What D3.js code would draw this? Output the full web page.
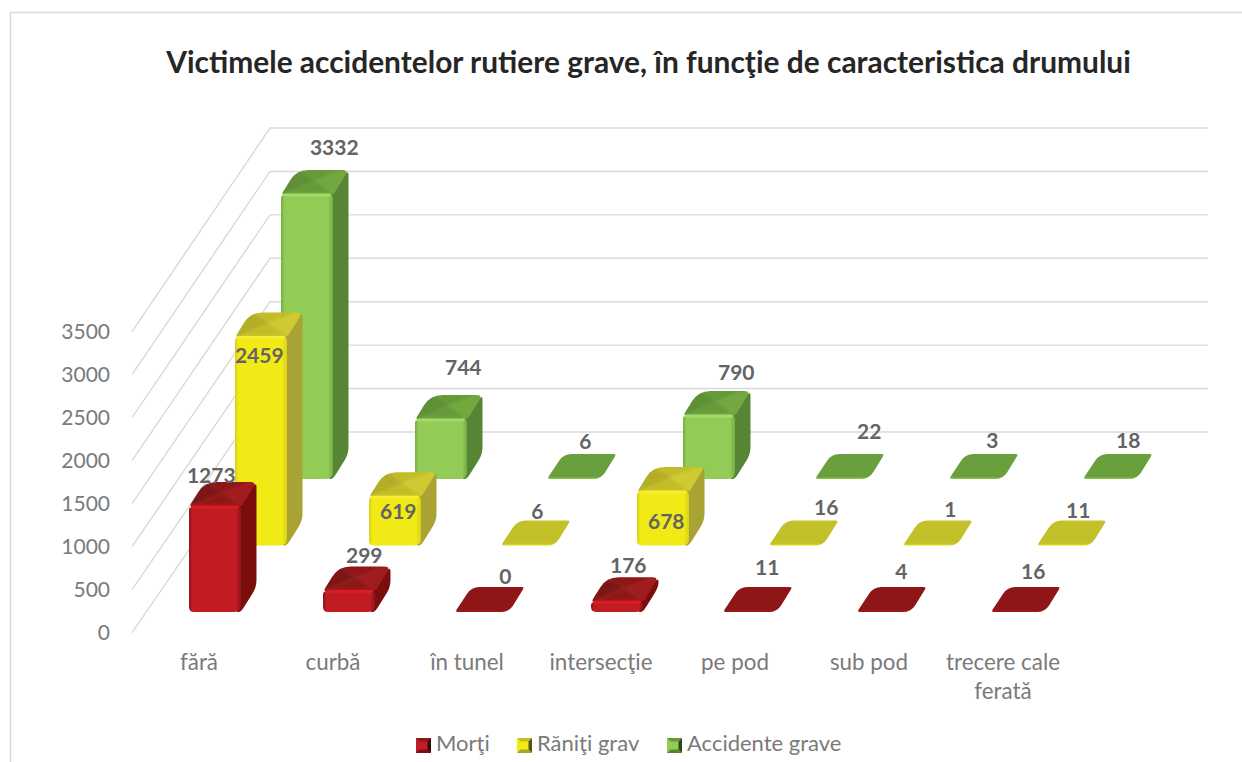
<!DOCTYPE html>
<html><head><meta charset="utf-8">
<style>html,body{margin:0;padding:0;background:#fff}svg{display:block}text{font-family:Lato,"Open Sans",sans-serif}</style>
<script src="https://cdn.jsdelivr.net/npm/d3@7"></script></head><body>
<svg id="c" width="1242" height="762"></svg>
<script>
const categories = ["fără","curbă","în tunel","intersecţie","pe pod","sub pod",["trecere cale","ferată"]];
const seriesNames = ["Morţi","Răniţi grav","Accidente grave"];
const morti = [1273,299,0,176,11,4,16];
const raniti = [2459,619,6,678,16,1,11];
const accidente = [3332,744,6,790,22,3,18];
const yTicks = [0,500,1000,1500,2000,2500,3000,3500];
const titleText = "Victimele accidentelor rutiere grave, în funcţie de caracteristica drumului";

// label nudges relative to the top of each bar
const labelNudgeMorti = [[-11.5,-6.6],[7.5,-10.5],[14.5,-10],[3.5,-12],[8.5,-19],[8.5,-15],[6.5,-15]];
const labelNudgeRaniti = [[-9.5,43.7],[-4.5,39.4],[0.5,-9],[-4.5,54.5],[21.5,-13],[11.5,-11],[5.5,-10]];
const labelNudgeAccidente = [[19.5,-22],[14.5,-27],[2.5,-12],[19.5,-18],[18.5,-22],[7.5,-13],[9.5,-13]];

const palettes = [
 {front:"#c01e24",edge:"#8e1419",hi:"#dd1c22",topF:"#c81a20",topB:"#8f1518",topL:"#7e1214",topR:"#a01a1c",side:"#7b0f11",flat:"#8f1518",flatEdge:"#a3181c",dark:"#3d0a0b"},
 {front:"#f2ea14",edge:"#d8d01c",hi:"#f6ee30",topF:"#dcd51c",topB:"#c4bc28",topL:"#b4ae26",topR:"#d0ca30",side:"#a8a330",flat:"#c3c12b",flatEdge:"#e0da1a",dark:"#55531a"},
 {front:"#92cc57",edge:"#76ad42",hi:"#a6d86a",topF:"#86bf4e",topB:"#659a37",topL:"#5e9036",topR:"#72a83e",side:"#578535",flat:"#6b9f3c",flatEdge:"#8fc64f",dark:"#2e4a1c"}
];

const W=1242,H=762;
const svg=d3.select("#c");
const defs=svg.append("defs");
svg.append("rect").attr("width",W).attr("height",H).attr("fill","#fff");

// chart frame
svg.append("path").attr("d",d3.line()([[10.5,762],[10.5,12.5],[1242,12.5]]))
   .attr("fill","none").attr("stroke","#dadada").attr("stroke-width",1.6);

// title
svg.append("text").attr("x",648.5).attr("y",72.5).attr("text-anchor","middle")
  .attr("font-size",29.9).attr("font-weight",700).attr("fill","#262626").text(titleText);

// scales
const wallY=d3.scaleLinear().domain([0,3500]).range([432,128]);
const frontY=d3.scaleLinear().domain([0,3500]).range([632.7,331.7]);
const heightPx=d3.scaleLinear().domain([0,3500]).range([0,304]);
const xCat=d3.scalePoint().domain(d3.range(categories.length)).range([189,993]);
const xSeries=d3.scalePoint().domain([0,1,2]).range([0,92]);
const baseY=d3.scalePoint().domain([0,1,2]).range([612,479]);
const barW=52,depthX=15.5,depthY=25,bevel=5.5;

// gridlines
const grid=svg.append("g").attr("fill","none").attr("stroke","#d9d9d9").attr("stroke-width",1.4);
yTicks.forEach(t=>{
  grid.append("path").attr("d",d3.line()([[132,frontY(t)],[270,wallY(t)],[1208,wallY(t)]]));
});

// axis labels
svg.append("g").selectAll("text").data(yTicks).join("text")
  .attr("x",110).attr("y",d=>frontY(d)-1.4).attr("text-anchor","end").attr("dominant-baseline","central")
  .attr("font-size",21).attr("fill","#7a7a7a").text(d=>d);

const catCenter=d3.scalePoint().domain(d3.range(categories.length)).range([199,1003]);
categories.forEach((c,i)=>{
  const lines=Array.isArray(c)?c:[c];
  lines.forEach((l,k)=>{
    svg.append("text").attr("x",catCenter(i)).attr("y",661+k*29).attr("text-anchor","middle")
      .attr("dominant-baseline","central").attr("font-size",22.4).attr("fill","#7a7a7a").text(l);
  });
});

function rounded(pts,rs){
  const n=pts.length;let d="";
  for(let i=0;i<n;i++){
    const p=pts[i],a=pts[(i+n-1)%n],b=pts[(i+1)%n],r=Array.isArray(rs)?rs[i]:rs;
    const la=Math.hypot(a[0]-p[0],a[1]-p[1]),lb=Math.hypot(b[0]-p[0],b[1]-p[1]);
    const ra=Math.min(r,la/2),rb=Math.min(r,lb/2);
    const s=[p[0]+(a[0]-p[0])*ra/la,p[1]+(a[1]-p[1])*ra/la];
    const e=[p[0]+(b[0]-p[0])*rb/lb,p[1]+(b[1]-p[1])*rb/lb];
    d+=(i?"L":"M")+s[0]+","+s[1]+"Q"+p[0]+","+p[1]+" "+e[0]+","+e[1];
  }
  return d+"Z";
}
const poly=pts=>d3.line()(pts)+"Z";

// gradients and softening filters
defs.append("filter").attr("id","soft").attr("x","-5%").attr("y","-5%").attr("width","110%").attr("height","110%")
  .append("feGaussianBlur").attr("stdDeviation",0.45);
defs.append("filter").attr("id","facet").attr("x","-20%").attr("y","-40%").attr("width","140%").attr("height","180%")
  .append("feGaussianBlur").attr("stdDeviation",1.6);
palettes.forEach((p,i)=>{
  const g=defs.append("linearGradient").attr("id","front"+i);
  [[0,p.edge],[0.07,p.front],[0.9,p.front],[1,p.edge]].forEach(s=>g.append("stop").attr("offset",s[0]).attr("stop-color",s[1]));
  const f=defs.append("linearGradient").attr("id","flat"+i).attr("x1",0).attr("y1",0).attr("x2",0).attr("y2",1);
  [[0,p.flat],[0.9,p.flat],[1,p.flatEdge]].forEach(s=>f.append("stop").attr("offset",s[0]).attr("stop-color",s[1]));
  const t=defs.append("linearGradient").attr("id","topf"+i).attr("x1",0).attr("y1",0).attr("x2",0).attr("y2",1);
  [[0,p.topB],[0.55,p.topB],[1,p.topF]].forEach(s=>t.append("stop").attr("offset",s[0]).attr("stop-color",s[1]));
});

// bars, back row first
const allSeries=[morti,raniti,accidente];
const nudges=[labelNudgeMorti,labelNudgeRaniti,labelNudgeAccidente];
const labels=[];
let clipId=0;
[2,1,0].forEach(s=>{
  const pal=palettes[s];
  const row=svg.append("g");
  allSeries[s].forEach((v,i)=>{
    const x=xCat(i)+xSeries(s), yb=baseY(s), h=heightPx(v);
    const rise=Math.max(0,h-bevel), yt=yb-rise;
    const g=row.append("g").attr("filter","url(#soft)");
    const topPts=[[x,yt],[x+barW,yt],[x+barW+depthX,yt-depthY],[x+depthX,yt-depthY]];
    if(rise>0){
      g.append("path").attr("d",rounded([[x+barW-4,yt],[x+barW+depthX,yt-depthY],[x+barW+depthX,yb-depthY],[x+barW,yb],[x+barW-4,yb]],[0,5,7,7,0]))
       .attr("fill",pal.side);
      g.append("path").attr("d",rounded([[x,yt],[x+barW,yt],[x+barW,yb],[x,yb]],[3,3,7,5])).attr("fill",`url(#front${s})`);
      const id="clip"+(clipId++);
      defs.append("clipPath").attr("id",id).append("path").attr("d",rounded(topPts,[4,4,6,12]));
      const t=g.append("g").attr("clip-path",`url(#${id})`).append("g").attr("filter","url(#facet)");
      const apex=[x+(barW+depthX)/2,yt-depthY/2-2];
      const ex=[[x-8,yt+4],[x+barW+8,yt+4],[x+barW+depthX+8,yt-depthY-6],[x+depthX-8,yt-depthY-6]];
      [[[ex[3],ex[2],apex],pal.topB],[[ex[3],ex[0],apex],pal.topL],
       [[ex[1],ex[2],apex],pal.topR]]
       .forEach(([pp,c])=>t.append("path").attr("d",poly(pp)).attr("fill",c).attr("stroke",c).attr("stroke-width",0.4));
      t.append("path").attr("d",poly([ex[0],ex[1],apex])).attr("fill",`url(#topf${s})`);
      g.append("rect").attr("x",x+2).attr("y",yt-1.5).attr("width",barW-4).attr("height",3).attr("rx",1.5).attr("fill",pal.hi);
    } else {
      const flatPts=[[x-2,yt],[x+barW,yt],[x+barW+depthX,yt-depthY],[x+depthX-1,yt-depthY]];
      g.append("path").attr("d",rounded(flatPts,[3,8,3,8])).attr("fill",`url(#flat${s})`);
    }
    const n=nudges[s][i];
    labels.push({v,x:x+(barW+depthX)/2+n[0],y:yt-depthY+n[1]-1.2});
  });
});

// data labels
svg.append("g").selectAll("text").data(labels).join("text")
  .attr("x",d=>d.x).attr("y",d=>d.y).attr("text-anchor","middle").attr("dominant-baseline","central")
  .attr("font-size",21).attr("font-weight",700).attr("fill","#646464").text(d=>d.v);

// legend
const legX=d3.scaleOrdinal().domain([0,1,2]).range([416,517,667]);
seriesNames.forEach((nm,i)=>{
  const p=palettes[i],x=legX(i),y=738,s=15,b=3.5;
  const g=svg.append("g");
  g.append("rect").attr("x",x).attr("y",y).attr("width",s).attr("height",s).attr("fill",p.front);
  g.append("path").attr("d",poly([[x,y],[x+s,y],[x+s-b,y+b],[x+b,y+b]])).attr("fill",p.topB);
  g.append("path").attr("d",poly([[x+s,y],[x+s,y+s],[x+s-b,y+s-b],[x+s-b,y+b]])).attr("fill",p.dark);
  g.append("path").attr("d",poly([[x,y+s],[x+s,y+s],[x+s-b,y+s-b],[x+b,y+s-b]])).attr("fill",p.side);
  svg.append("text").attr("x",x+s+5).attr("y",y+4.5).attr("dominant-baseline","central")
    .attr("font-size",22).attr("fill","#7a7a7a").text(nm);
});
</script></body></html>
